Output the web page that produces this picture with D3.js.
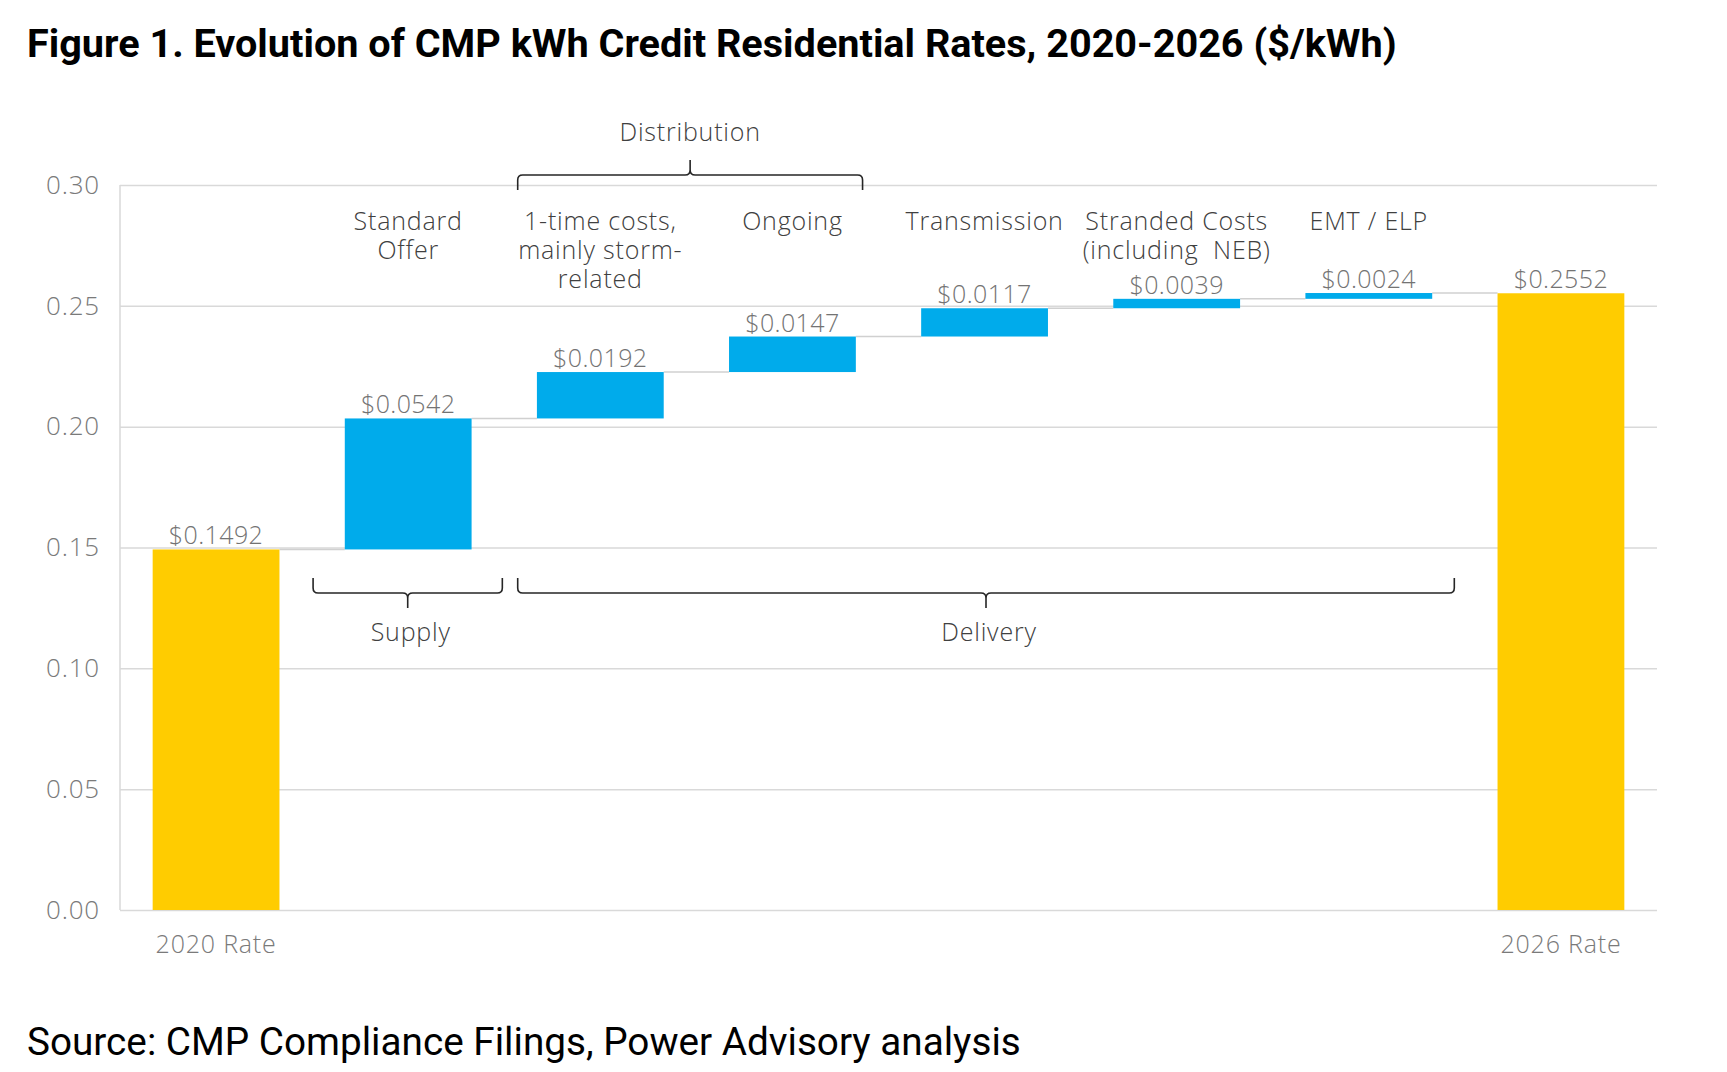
<!DOCTYPE html>
<html>
<head>
<meta charset="utf-8">
<script src="https://cdn.jsdelivr.net/npm/d3@7"></script>
<style>
	body { margin: 0; background: #fff; }
	svg { display: block; }
	svg text { white-space: pre; }
</style>
</head>
<body>
<svg id="chart" width="1727" height="1072"></svg>
<script>

// data

var categories = [ "2020 Rate", "Standard Offer", "1-time costs", "Ongoing", "Transmission", "Stranded Costs", "EMT / ELP", "2026 Rate" ];
var kinds = [ "total", "delta", "delta", "delta", "delta", "delta", "delta", "total" ];
var values = [ 0.1492, 0.0542, 0.0192, 0.0147, 0.0117, 0.0039, 0.0024, 0.2552 ];
var catLabels = [
	[],
	[ "Standard", "Offer" ],
	[ "1-time costs,", "mainly storm-", "related" ],
	[ "Ongoing" ],
	[ "Transmission" ],
	[ "Stranded Costs", "(including  NEB)" ],
	[ "EMT / ELP" ],
	[]
];
var yTicks = [ 0, 0.05, 0.10, 0.15, 0.20, 0.25, 0.30 ];

var groupNames = [ "Distribution", "Supply", "Delivery" ];

var title = "Figure 1. Evolution of CMP kWh Credit Residential Rates, 2020-2026 ($/kWh)";
var source = "Source: CMP Compliance Filings, Power Advisory analysis";

// layout

var [ mT, mR, mB, mL ] = [ 185, 70, 162, 120 ];		// plot box inside the 1727x1072 page
var W = 1727, H = 1072;
var font = "'Open Sans', 'Noto Sans', sans-serif";

// brace placement in band units, tip direction, and y of the bar of the brace
var braceSpan = { "Distribution": [ 2.07, 3.865, -1, 175 ], "Supply": [ 1.005, 1.99, 1, 593 ], "Delivery": [ 2.07, 6.945, 1, 593 ] };

var svg = d3.select("#chart");

var x = d3.scaleBand(categories, [ mL, W - mR ]).paddingInner(0.34).paddingOuter(0.17);
var y = d3.scaleLinear([ 0, 0.30 ], [ H - mB, mT ]);
var step = x.step();

// running totals for the waterfall
var run = 0;
var bars = categories.map((c, i) => {
	var lo, hi;
	if(kinds[i] === "total")	{ lo = 0; hi = values[i]; run = values[i]; }
	else	{ lo = run; hi = run + values[i]; run = hi; }
	return { cat: c, kind: kinds[i], v: values[i], lo: lo, hi: hi, lines: catLabels[i] };
});

function labelStyle(sel, size, color)	{
	sel.attr("font-family", font)
		.attr("font-weight", 300)
		.attr("font-size", size)
		.attr("letter-spacing", "0.8px")
		.attr("fill", color);
}

// grid + y axis
svg.append("g")
	.attr("class", "y-axis")
	.attr("transform", `translate(${mL}, 0)`)
	.call(d3.axisLeft(y).tickValues(yTicks).tickFormat(d3.format(".2f")).tickSize(-(W - mR - mL)).tickPadding(20))
	.call(g => g.select(".domain").remove())
	.call(g => g.selectAll(".tick line").attr("stroke", "#d9d9d9").attr("stroke-width", 1.5))
	.call(g => g.selectAll(".tick text").call(labelStyle, 26, "#7a7a7a"));

svg.append("line")
	.attr("x1", mL).attr("x2", mL)
	.attr("y1", y(0.30)).attr("y2", y(0))
	.attr("stroke", "#d9d9d9").attr("stroke-width", 1.5);

// x axis, only the two totals carry a label
svg.append("g")
	.attr("class", "x-axis")
	.attr("transform", `translate(0, ${H - mB})`)
	.call(d3.axisBottom(x).tickSize(0).tickPadding(25).tickFormat((d, i) => kinds[i] === "total" ? d : ""))
	.call(g => g.select(".domain").remove())
	.call(g => g.selectAll(".tick text").call(labelStyle, 25, "#7a7a7a"));

// connectors
svg.append("g")
	.selectAll("line")
	.data(bars.slice(0, -1))
	.join("line")
	.attr("x1", d => x(d.cat) + x.bandwidth())
	.attr("x2", (d, i) => x(categories[i + 1]))
	.attr("y1", d => y(d.hi))
	.attr("y2", d => y(d.hi))
	.attr("stroke", "#d0d0d0")
	.attr("stroke-width", 1.5);

// bars
svg.append("g")
	.selectAll("rect")
	.data(bars)
	.join("rect")
	.attr("x", d => x(d.cat))
	.attr("y", d => y(d.hi))
	.attr("width", x.bandwidth())
	.attr("height", d => y(d.lo) - y(d.hi))
	.attr("fill", d => d.kind === "total" ? "#ffcc00" : "#00abeb");

// value labels
svg.append("g")
	.selectAll("text")
	.data(bars)
	.join("text")
	.attr("x", d => x(d.cat) + x.bandwidth() / 2)
	.attr("y", d => y(d.hi) - 5)
	.attr("text-anchor", "middle")
	.call(labelStyle, 25, "#737373")
	.attr("letter-spacing", "0.4px")
	.text(d => "$" + d3.format(".4f")(d.v));

// category names over the increments, one text per line
svg.append("g")
	.selectAll("g")
	.data(bars)
	.join("g")
	.selectAll("text")
	.data(d => d.lines.map((s, i) => ({ s: s, i: i, cx: x(d.cat) + x.bandwidth() / 2 })))
	.join("text")
	.attr("x", d => d.cx)
	.attr("y", d => mT + 45 + d.i * 29)
	.attr("text-anchor", "middle")
	.call(labelStyle, 25, "#404040")
	.text(d => d.s);

// braces
function brace(x0, x1, yy, s)	{		// s = 1 tip points down, -1 tip points up
	var xm = (x0 + x1) / 2, r = 5, e = 15, t = 15;
	return `M${x0},${yy - e * s} L${x0},${yy - r * s} Q${x0},${yy} ${x0 + r},${yy} L${xm - r},${yy} Q${xm},${yy} ${xm},${yy + r * s} L${xm},${yy + t * s}`
		+ ` M${xm},${yy + r * s} Q${xm},${yy} ${xm + r},${yy} L${x1 - r},${yy} Q${x1},${yy} ${x1},${yy - r * s} L${x1},${yy - e * s}`;
}

var bandU = u => x.range()[0] + u * step;

groupNames.forEach(g => {

	var [ u0, u1, s, yy ] = braceSpan[g];
	var x0 = bandU(u0), x1 = bandU(u1);

	svg.append("path")
		.attr("d", brace(x0, x1, yy, s))
		.attr("fill", "none")
		.attr("stroke", "#262626")
		.attr("stroke-width", 1.6);

	svg.append("text")
		.attr("x", (x0 + x1) / 2 + (s > 0 ? 3 : 0))
		.attr("y", s > 0 ? yy + 48 : yy - 34)
		.attr("text-anchor", "middle")
		.call(labelStyle, 25, "#404040")
		.text(g);

});

// title and source, set to the width they take in the original
function fitText(sel, width)	{
	var n = sel.node(), fs = +sel.attr("font-size");
	var w = n.getComputedTextLength();
	sel.attr("font-size", fs * width / w);
}

svg.append("text")
	.attr("x", 27).attr("y", 57)
	.attr("font-family", "Roboto, 'Liberation Sans', sans-serif")
	.attr("font-weight", 700)
	.attr("font-size", 36)
	.attr("fill", "#000")
	.text(title)
	.call(sel => fitText(sel, 1370));

svg.append("text")
	.attr("x", 27).attr("y", 1055)
	.attr("font-family", "Roboto, 'Liberation Sans', sans-serif")
	.attr("font-size", 37)
	.attr("fill", "#000")
	.text(source)
	.call(sel => fitText(sel, 994));

</script>
</body>
</html>
